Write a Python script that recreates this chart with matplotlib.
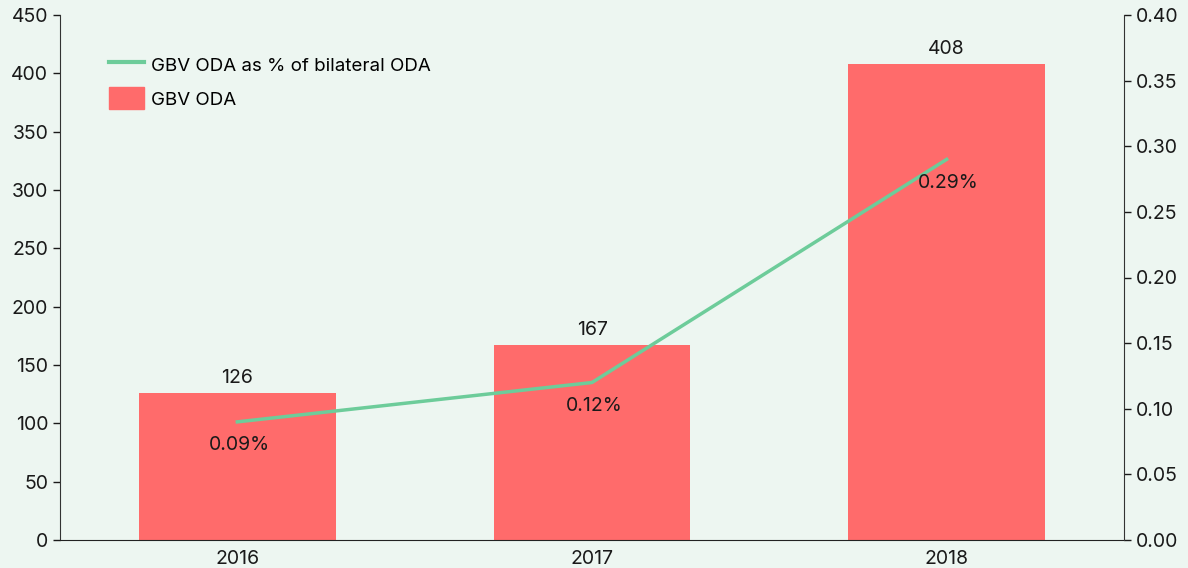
import matplotlib
matplotlib.use("Agg")
import matplotlib.pyplot as plt
from matplotlib.patches import Patch
from matplotlib.lines import Line2D

years = ["2016", "2017", "2018"]
gbv_oda = [126, 167, 408]
gbv_pct = [0.09, 0.12, 0.29]
pct_labels = ["0.09%", "0.12%", "0.29%"]

bg = "#EDF6F1"
bar_c = "#FF6B6B"
line_c = "#6DCC9A"
txt = "#1a1a1a"
fs = 14

plt.rcParams['font.family'] = ['Inter', 'DejaVu Sans']

fig = plt.figure(figsize=(11.88, 5.68), dpi=100, facecolor=bg)
ax = fig.add_axes([60/1188, 1-540/568, 1064/1188, 525/568])
ax.set_facecolor(bg)
x = list(range(len(years)))
ax.bar(x, gbv_oda, width=0.555, color=bar_c, zorder=2)
for xi, v in zip(x, gbv_oda):
    ax.text(xi, v + 5, str(v), ha='center', va='bottom', fontsize=fs, color=txt)
ax.set_xlim(-0.5, 2.5)
ax.set_ylim(0, 450)
ax.set_yticks(range(0, 451, 50))
ax.set_xticks(x)
ax.set_xticklabels(years)
ax.tick_params(axis='x', length=0, pad=7, labelsize=fs, colors=txt)
ax.tick_params(axis='y', length=5, width=1, labelsize=fs, colors=txt)
for s in ['top', 'right']:
    ax.spines[s].set_visible(False)
ax.spines['left'].set_color('#333333')
ax.spines['bottom'].set_color('#222222')

ax2 = ax.twinx()
ax2.plot(x, gbv_pct, color=line_c, lw=2.5, zorder=3)
for xi, v, lab in zip(x, gbv_pct, pct_labels):
    ax2.text(xi + 0.005, v - 0.011, lab, ha='center', va='top', fontsize=fs, color=txt)
ax2.set_ylim(0, 0.40)
ax2.set_yticks([i * 0.05 for i in range(9)])
ax2.set_yticklabels([f"{i*0.05:.2f}" for i in range(9)])
ax2.tick_params(axis='y', length=5, width=1, labelsize=fs, colors=txt)
for s in ['top', 'left', 'bottom']:
    ax2.spines[s].set_visible(False)
ax2.spines['right'].set_color('#333333')

handles = [Line2D([0], [0], color=line_c, lw=3), Patch(color=bar_c)]
labels = ["GBV ODA as % of bilateral ODA", "GBV ODA"]
ax.legend(handles, labels, loc='upper left', bbox_to_anchor=(49/1064, 0.927), frameon=False,
          fontsize=13.5, handlelength=1.85, handleheight=1.45, labelspacing=0.62,
          handletextpad=0.4, borderpad=0, borderaxespad=0)

fig.savefig("out.png", dpi=100, facecolor=bg)
